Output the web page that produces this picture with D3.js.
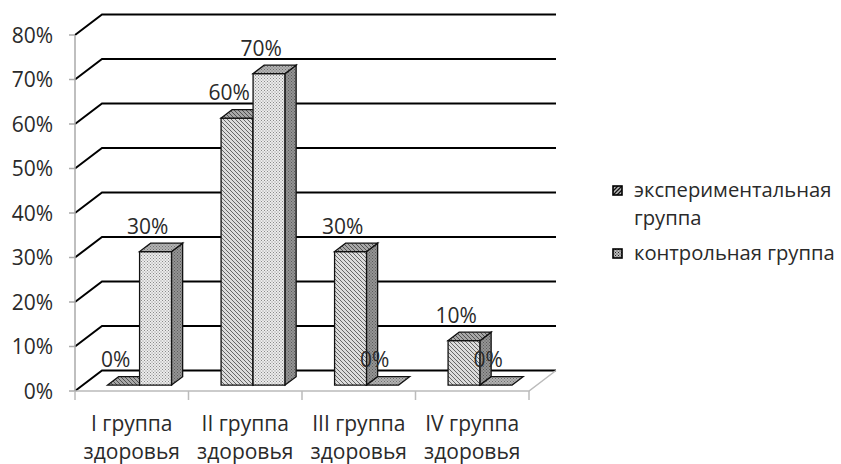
<!DOCTYPE html>
<html>
<head>
<meta charset="utf-8">
<script src="https://cdn.jsdelivr.net/npm/d3@7"></script>
<style>
  body { margin: 0; background: #fff; }
  svg text { font-family: "Open Sans", sans-serif; fill: #2a2a2a; }
</style>
</head>
<body>
<div id="chart"></div>
<script>
// data
var categories = ["I группа|здоровья", "II группа|здоровья", "III группа|здоровья", "IV группа|здоровья"];
var seriesNames = ["экспериментальная|группа", "контрольная группа"];
var experimental = [0, 0.6, 0.3, 0.1];
var control = [0.3, 0.7, 0, 0];
var ticks = [0, 0.1, 0.2, 0.3, 0.4, 0.5, 0.6, 0.7, 0.8];

var width = 841, height = 464;
// 3d depth of the plot box and of the bars
var DX = 27, DY = -20.5;
var t0 = 0.29, t1 = 0.7;
var fs = 21;

var svg = d3.select("#chart").append("svg")
    .attr("width", width)
    .attr("height", height);

var defs = svg.append("defs");

function hatch(id, bg, fg, dir, sw) {
    var p = defs.append("pattern")
        .attr("id", id)
        .attr("patternUnits", "userSpaceOnUse")
        .attr("width", 4).attr("height", 4);
    p.append("rect").attr("width", 4).attr("height", 4).attr("fill", bg);
    var d = dir > 0 ? "M-1,1 L1,-1 M0,4 L4,0 M3,5 L5,3" : "M-1,3 L1,5 M0,0 L4,4 M3,-1 L5,1";
    p.append("path").attr("d", d).attr("stroke", fg).attr("stroke-width", sw || 1);
}
function dots(id, bg, fg) {
    var p = defs.append("pattern")
        .attr("id", id)
        .attr("patternUnits", "userSpaceOnUse")
        .attr("width", 3).attr("height", 3);
    p.append("rect").attr("width", 3).attr("height", 3).attr("fill", bg);
    p.append("rect").attr("x", 0).attr("y", 0).attr("width", 1).attr("height", 1).attr("fill", fg);
    p.append("rect").attr("x", 1.5).attr("y", 1.5).attr("width", 1).attr("height", 1).attr("fill", fg);
}
hatch("expFront", "#dcdcdc", "#666", -1, 1);
hatch("expTop", "#a8a8a8", "#505050", -1, 1);
hatch("expLegend", "#bbb", "#111", 1, 1.3);
dots("ctlFront", "#ececec", "#8a8a8a");
dots("ctlTop", "#b4b4b4", "#707070");
dots("side", "#949494", "#5a5a5a");
dots("ctlLegend", "#bbb", "#222");

var y = d3.scaleLinear().domain([0, 0.8]).range([391, 35]);
var x = d3.scaleBand().domain(d3.range(categories.length)).range([75, 529]);
var xs = d3.scaleBand().domain([0, 1]).range([x.bandwidth() / 2 - 32, x.bandwidth() / 2 + 32]);

// back wall grid
var grid = svg.append("g");
grid.selectAll("path.grid")
    .data(ticks)
    .enter().append("path")
    .attr("d", function(d) {
        return "M75," + y(d) + " L" + (75 + DX) + "," + (y(d) + DY) + " L" + (529 + DX) + "," + (y(d) + DY);
    })
    .attr("fill", "none")
    .attr("stroke", "#000")
    .attr("stroke-width", 2);

// floor outline
grid.append("path")
    .attr("d", "M75," + y(0) + " L529," + y(0) + " L" + (529 + DX) + "," + (y(0) + DY))
    .attr("fill", "none")
    .attr("stroke", "#bbb")
    .attr("stroke-width", 1.5);

// y axis
var yAxis = svg.append("g");
yAxis.append("line")
    .attr("x1", 75).attr("x2", 75)
    .attr("y1", y(0.8)).attr("y2", y(0))
    .attr("stroke", "#aaa").attr("stroke-width", 1.5);
yAxis.selectAll("line.tk").data(ticks).enter().append("line")
    .attr("x1", 69).attr("x2", 75)
    .attr("y1", function(d) { return y(d); })
    .attr("y2", function(d) { return y(d); })
    .attr("stroke", "#aaa").attr("stroke-width", 1.5);
yAxis.selectAll("text").data(ticks).enter().append("text")
    .attr("x", 53)
    .attr("y", function(d) { return y(d) + 7.5; })
    .attr("text-anchor", "end")
    .attr("font-size", fs)
    .text(function(d) { return Math.round(d * 100) + "%"; });

// x axis ticks
svg.selectAll("line.xt").data(d3.range(categories.length + 1)).enter().append("line")
    .attr("x1", function(i) { return 75 + i * x.bandwidth(); })
    .attr("x2", function(i) { return 75 + i * x.bandwidth(); })
    .attr("y1", y(0)).attr("y2", y(0) + 9)
    .attr("stroke", "#bbb").attr("stroke-width", 1.5);

var cat = svg.selectAll("text.cat").data(categories).enter().append("text")
    .attr("text-anchor", "middle")
    .attr("font-size", fs);
cat.each(function(d, i) {
    var lines = d.split("|");
    d3.select(this).selectAll("tspan").data(lines).enter().append("tspan")
        .attr("x", x(i) + x.bandwidth() / 2)
        .attr("y", function(l, j) { return 431 + j * 28; })
        .text(function(l) { return l; });
});

// bars
var bars = [];
categories.forEach(function(c, i) {
    bars.push({cat: i, s: 0, v: experimental[i]});
    bars.push({cat: i, s: 1, v: control[i]});
});

function pt(px, v, t) { return [px + t * DX, y(v) + t * DY]; }
function poly(pts) { return "M" + pts.map(function(p) { return p.join(","); }).join(" L") + " Z"; }

var barG = svg.append("g");
bars.forEach(function(b) {
    var xl = x(b.cat) + xs(b.s), xr = xl + xs.bandwidth();
    var g = barG.append("g");
    var front = [pt(xl, b.v, t0), pt(xr, b.v, t0), pt(xr, 0, t0), pt(xl, 0, t0)];
    var top = [pt(xl, b.v, t0), pt(xr, b.v, t0), pt(xr, b.v, t1), pt(xl, b.v, t1)];
    var side = [pt(xr, b.v, t0), pt(xr, b.v, t1), pt(xr, 0, t1), pt(xr, 0, t0)];
    if (b.v > 0) {
        g.append("path").attr("d", poly(front))
            .attr("fill", b.s === 0 ? "url(#expFront)" : "url(#ctlFront)")
            .attr("stroke", "#111").attr("stroke-width", 1.3);
        g.append("path").attr("d", poly(side))
            .attr("fill", "url(#side)")
            .attr("stroke", "#111").attr("stroke-width", 1.3);
    }
    g.append("path").attr("d", poly(top))
        .attr("fill", b.s === 0 ? "url(#expTop)" : "url(#ctlTop)")
        .attr("stroke", "#111").attr("stroke-width", 1.3);
});

// data labels
svg.selectAll("text.lbl").data(bars).enter().append("text")
    .attr("text-anchor", "middle")
    .attr("font-size", fs)
    .attr("x", function(b) { return x(b.cat) + xs(b.s) + xs.bandwidth() / 2; })
    .attr("y", function(b) { return pt(0, b.v, t0)[1] - 18; })
    .text(function(b) { return Math.round(b.v * 100) + "%"; });

// legend
var legY = [197, 260];
var leg = svg.append("g");
seriesNames.forEach(function(name, i) {
    leg.append("rect")
        .attr("x", 613).attr("y", legY[i] - 11)
        .attr("width", 9).attr("height", 9)
        .attr("fill", i === 0 ? "url(#expLegend)" : "url(#ctlLegend)")
        .attr("stroke", "#000").attr("stroke-width", 1.6);
    var t = leg.append("text").attr("font-size", 20.2);
    name.split("|").forEach(function(l, j) {
        t.append("tspan").attr("x", 634).attr("y", legY[i] + j * 28).text(l);
    });
});
</script>
</body>
</html>
